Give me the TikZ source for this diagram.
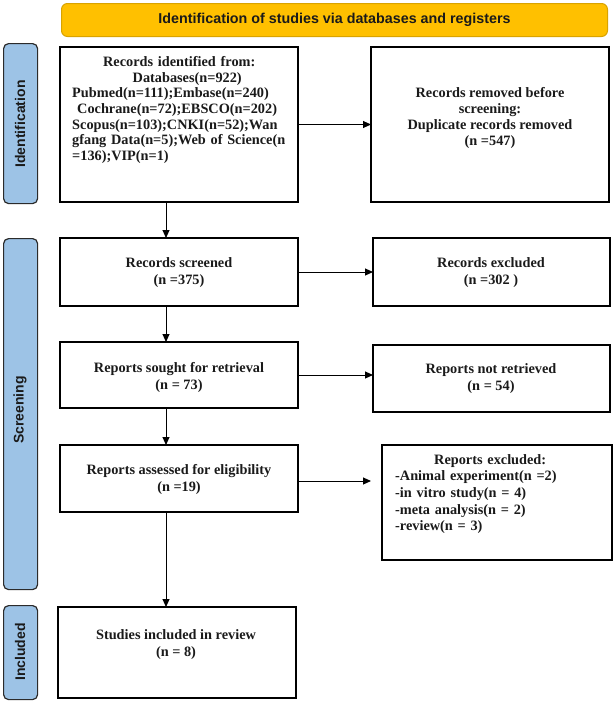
\documentclass[tikz,border=0pt]{standalone}
\usepackage{fontspec}
\setmainfont{Liberation Serif}
\newfontfamily\hdrfont{Liberation Sans}
\usetikzlibrary{arrows.meta}
\definecolor{hdrfill}{HTML}{FFC000}
\definecolor{hdrline}{HTML}{D9A300}
\definecolor{sidefill}{HTML}{9DC3E6}
\definecolor{sideline}{HTML}{2B2B2B}
\definecolor{inkcol}{HTML}{1A1A1A}
\tikzset{
  flowbox/.style={draw=black, line width=1.3pt, fill=white, inner sep=0pt, outer sep=0pt},
  sidebar/.style={draw=sideline, line width=1.2pt, fill=sidefill, rounded corners=5pt, inner sep=0pt},
  hdrbox/.style={draw=hdrline, line width=1pt, fill=hdrfill, rounded corners=6pt, inner sep=0pt},
  arr/.style={line width=1pt, draw=black, -{Triangle[length=8pt,width=7pt]}},
  boxtext/.style={font=\fontsize{14.3}{17}\selectfont\bfseries, align=center, inner sep=0pt, text=inkcol},
  sidetext/.style={font=\hdrfont\fontsize{14}{16}\selectfont\bfseries, rotate=90, inner sep=0pt, text=inkcol},
  hdrtext/.style={font=\hdrfont\fontsize{14.3}{16}\selectfont\bfseries, inner sep=0pt, text=inkcol},
}
\begin{document}
\begin{tikzpicture}[x=1pt,y=-1pt]
\useasboundingbox (0,0) rectangle (614,704);
\fill[white] (0,0) rectangle (614,704);

% header
\node[hdrbox, anchor=north west, minimum width=546pt, minimum height=33pt] (hdr) at (61,3) {};
\node[hdrtext] (hdrt) at (hdr.center) {Identification of studies via databases and registers};

% side bars
\node[sidebar, anchor=north west, minimum width=34pt, minimum height=160pt] (s1) at (3,43) {};
\node[sidebar, anchor=north west, minimum width=34pt, minimum height=351pt] (s2) at (3,238) {};
\node[sidebar, anchor=north west, minimum width=34pt, minimum height=94pt] (s3) at (3,605) {};
\node[sidetext] (s1t) at (20,124) {Identification};
\node[sidetext] (s2t) at (20,410) {Screening};
\node[sidetext] (s3t) at (20,652) {Included};

% boxes
\node[flowbox, anchor=north west, minimum width=238pt, minimum height=155pt] (b1) at (60,47) {};
\node[flowbox, anchor=north west, minimum width=238pt, minimum height=155pt] (b2) at (371,47) {};
\node[flowbox, anchor=north west, minimum width=238pt, minimum height=68pt] (b3) at (60,238) {};
\node[flowbox, anchor=north west, minimum width=237pt, minimum height=68pt] (b4) at (373,238) {};
\node[flowbox, anchor=north west, minimum width=238pt, minimum height=66pt] (b5) at (60,342) {};
\node[flowbox, anchor=north west, minimum width=237pt, minimum height=67pt] (b6) at (373,345) {};
\node[flowbox, anchor=north west, minimum width=238pt, minimum height=67pt] (b7) at (60,445) {};
\node[flowbox, anchor=north west, minimum width=230pt, minimum height=115pt] (b8) at (382,445) {};
\node[flowbox, anchor=north west, minimum width=238pt, minimum height=91pt] (b9) at (58,607) {};

% texts
\node[boxtext, align=left, text width=214pt, anchor=west, font=\fontsize{14.3}{15.6}\selectfont\bfseries] (t1) at (72,110)
 {{\centering Records identified from:\\ \hspace*{16pt}Databases(n=922)\par}\raggedright
  Pubmed(n=111);Embase(n=240)\\
  \hspace*{5pt}Cochrane(n=72);EBSCO(n=202)\\
  Scopus(n=103);CNKI(n=52);Wan\\
  gfang Data(n=5);Web of Science(n\\
  =136);VIP(n=1)};
\node[boxtext, font=\fontsize{14.3}{16.3}\selectfont\bfseries] (t2) at (490,118)
 {Records removed before\\screening:\\Duplicate records removed\\(n =547)};
\node[boxtext] (t3) at (179,273) {Records screened\\(n =375)};
\node[boxtext] (t4) at (491,273) {Records excluded\\(n =302 )};
\node[boxtext] (t5) at (179,377) {Reports sought for retrieval\\(n = 73)};
\node[boxtext] (t6) at (491,379) {Reports not retrieved\\(n = 54)};
\node[boxtext] (t7) at (179,479) {Reports assessed for eligibility\\(n =19)};
\node[boxtext, align=left, text width=190pt, anchor=west, font=\fontsize{14.3}{16.7}\selectfont\bfseries] (t8) at (395,494)
 {{\centering Reports excluded:\par}\raggedright
  -Animal experiment(n =2)\\
  -in vitro study(n = 4)\\
  -meta analysis(n = 2)\\
  -review(n = 3)};
\node[boxtext] (t9) at (176,645) {Studies included in review\\(n = 8)};

% connectors
\coordinate (colx) at (166,0);
\coordinate (exarrow) at (371,481);
\draw[arr] (b1.south -| colx) -- (b3.north -| colx);
\draw[arr] (b3.south -| colx) -- (b5.north -| colx);
\draw[arr] (b5.south -| colx) -- (b7.north -| colx);
\draw[arr] (b7.south -| colx) -- (b9.north -| colx);
\draw[arr] (b1.east) -- (b2.west);
\draw[arr] (b3.east) -- (b3.east -| b4.west);
\draw[arr] (b5.east) -- (b5.east -| b6.west);
\draw[arr] (b7.east |- exarrow) -- (exarrow);
\end{tikzpicture}
\end{document}
